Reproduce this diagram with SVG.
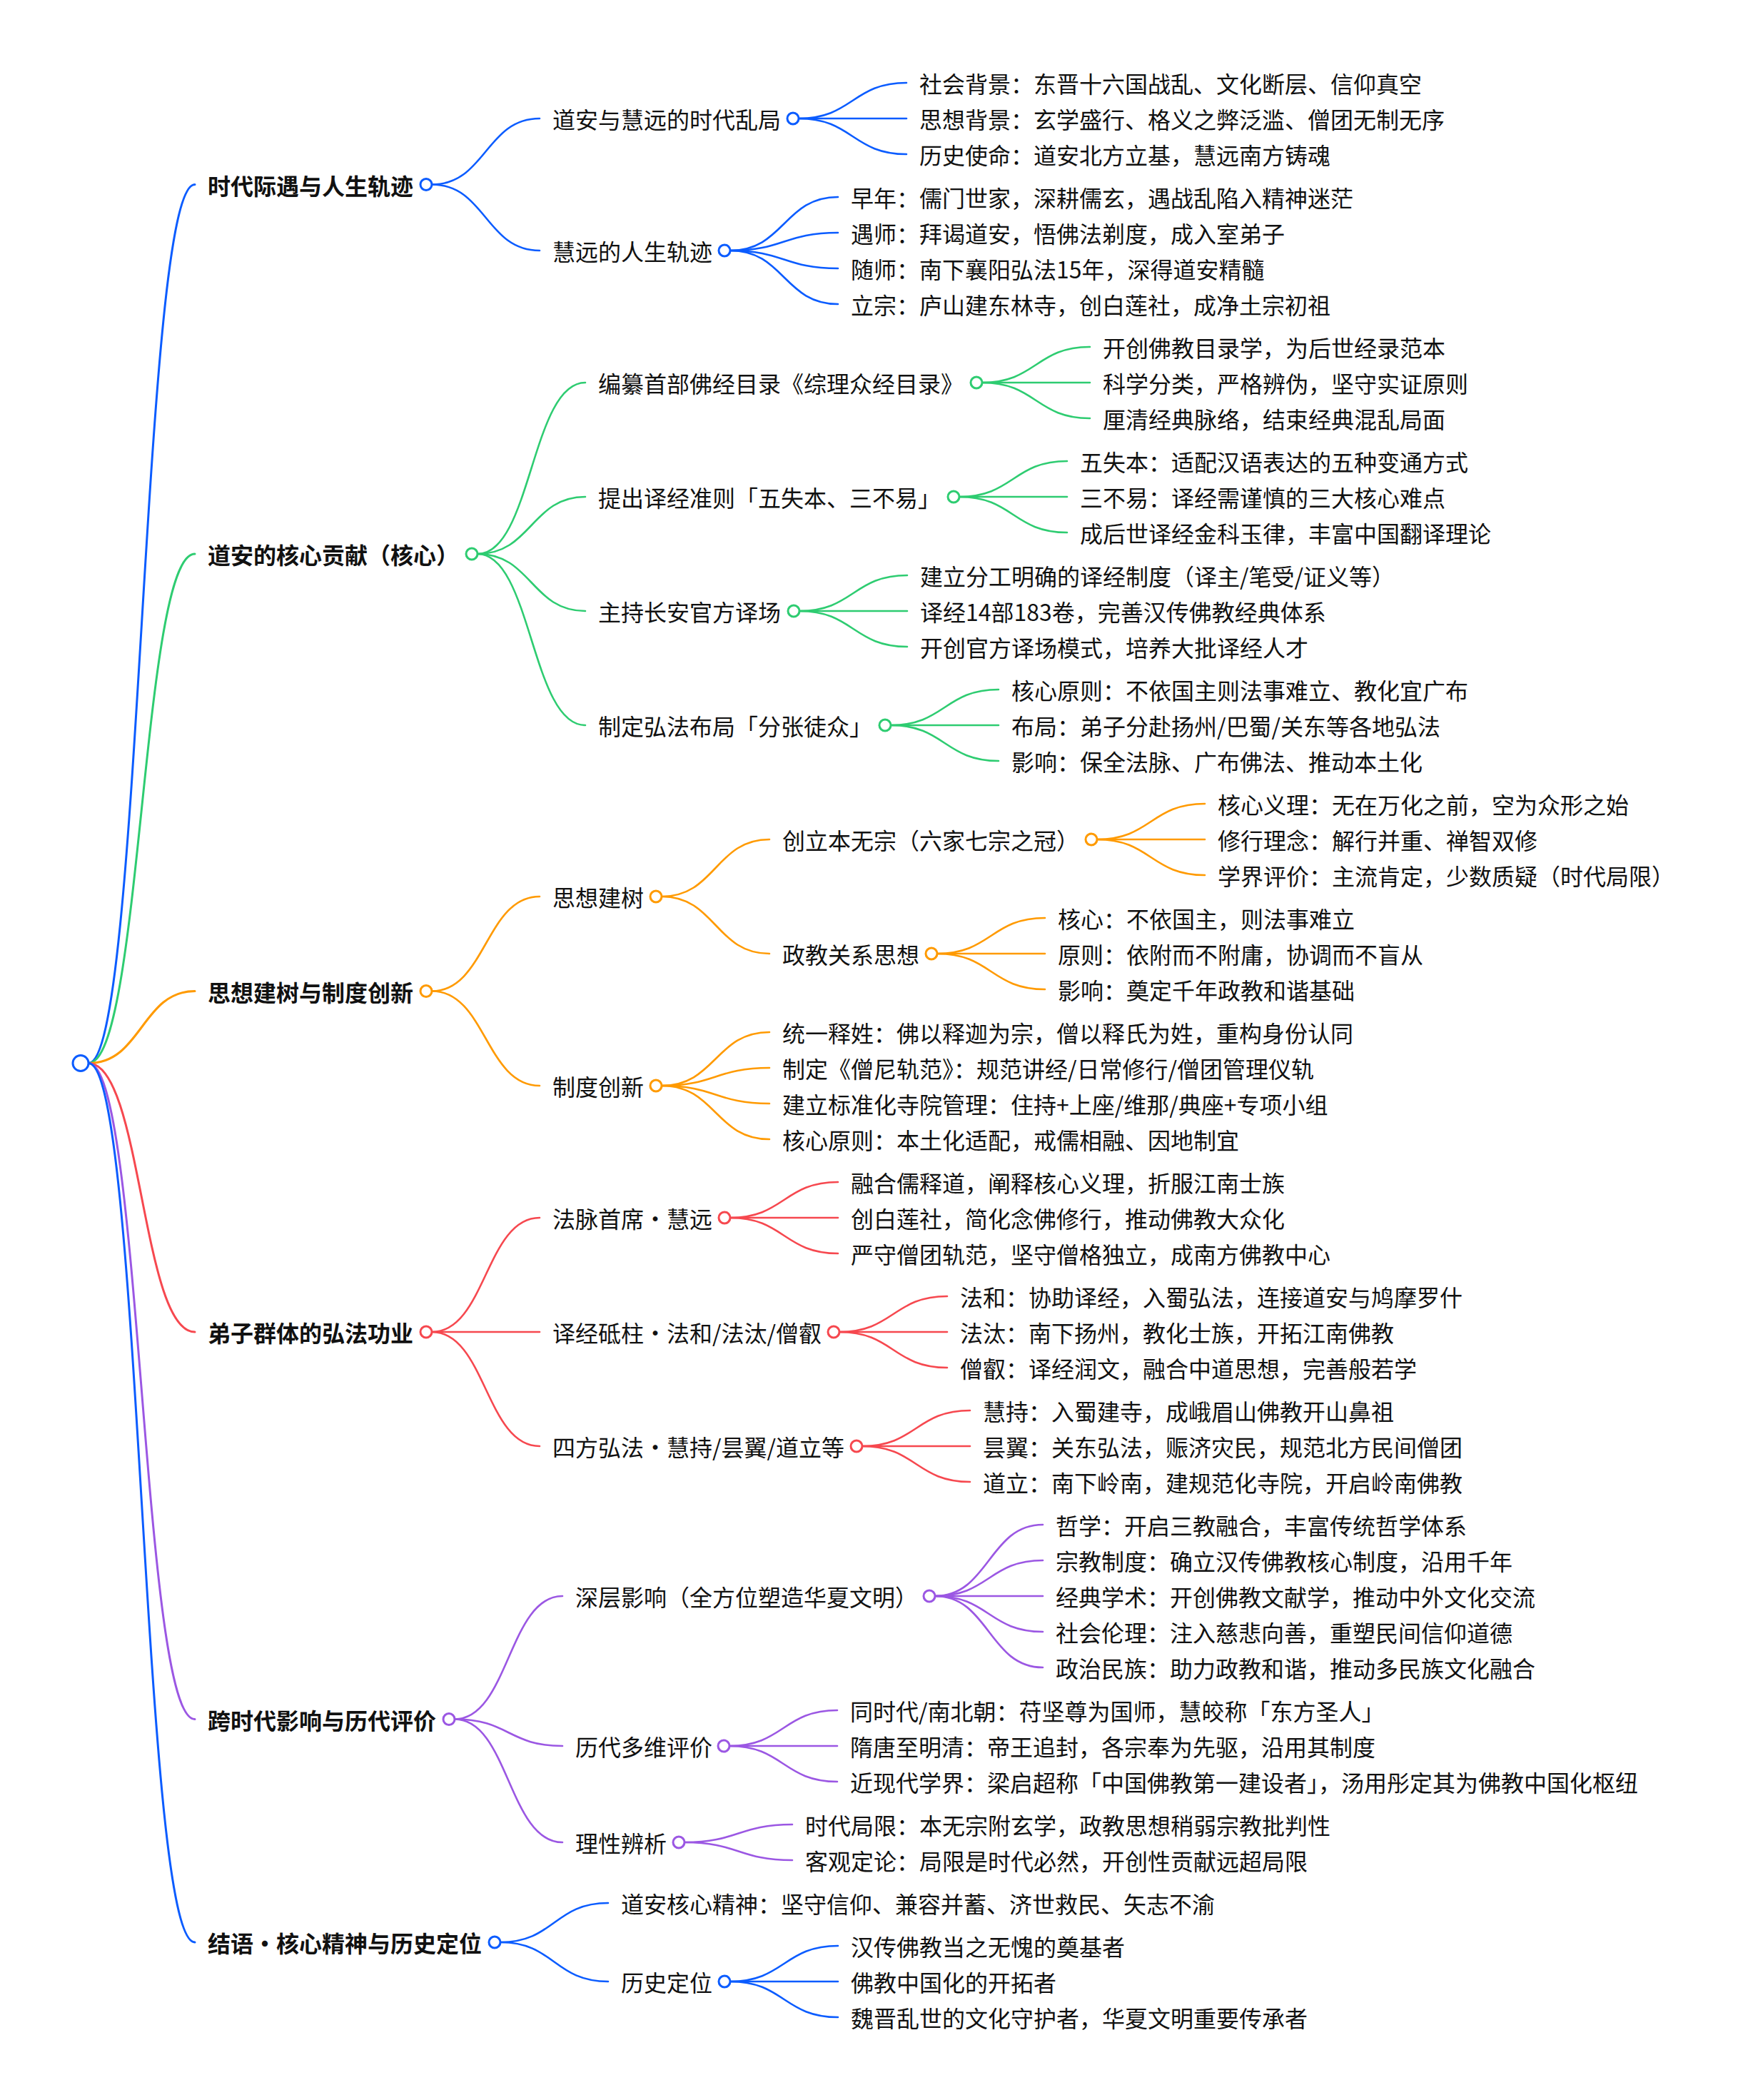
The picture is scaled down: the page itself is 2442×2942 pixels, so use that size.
<svg xmlns="http://www.w3.org/2000/svg" width="2442" height="2942" viewBox="0 0 2442 2942">
<style>
.t{font-family:"Noto Sans CJK SC","Noto Sans",sans-serif;font-size:32px;fill:#111}
.b{font-weight:700}
.l{fill:none;stroke-width:2.6;stroke-linecap:round}
.l1{stroke-width:3}
.c{fill:#fff;stroke-width:3}
.bl{stroke:#0b5cff}.gr{stroke:#2ecc71}.or{stroke:#ff9a00}.rd{stroke:#f6484f}.pu{stroke:#9b57e3}
</style>
<rect width="2442" height="2942" fill="#fff"/>
<g id="connectors">
<!-- root to L1 -->
<path class="l l1 bl" d="M124 1489.5C198.5 1489.5 198.5 258.5 273 258.5"/>
<path class="l l1 gr" d="M124 1489.5C198.5 1489.5 198.5 776 273 776"/>
<path class="l l1 or" d="M124 1489.5C198.5 1489.5 198.5 1388.5 273 1388.5"/>
<path class="l l1 rd" d="M124 1489.5C198.5 1489.5 198.5 1866 273 1866"/>
<path class="l l1 pu" d="M124 1489.5C198.5 1489.5 198.5 2408.5 273 2408.5"/>
<path class="l l1 bl" d="M124 1489.5C198.5 1489.5 198.5 2721 273 2721"/>
<!-- G1 -->
<path class="l bl" d="M605 258.5C680.5 258.5 680.5 166 756 166"/>
<path class="l bl" d="M605 258.5C680.5 258.5 680.5 351 756 351"/>
<path class="l bl" d="M1119 166C1194.5 166 1194.5 116 1270 116"/>
<path class="l bl" d="M1119 166C1194.5 166 1194.5 166 1270 166"/>
<path class="l bl" d="M1119 166C1194.5 166 1194.5 216 1270 216"/>
<path class="l bl" d="M1023 351C1098.5 351 1098.5 276 1174 276"/>
<path class="l bl" d="M1023 351C1098.5 351 1098.5 326 1174 326"/>
<path class="l bl" d="M1023 351C1098.5 351 1098.5 376 1174 376"/>
<path class="l bl" d="M1023 351C1098.5 351 1098.5 426 1174 426"/>
<!-- G2 -->
<path class="l gr" d="M669 776C744.5 776 744.5 536 820 536"/>
<path class="l gr" d="M669 776C744.5 776 744.5 696 820 696"/>
<path class="l gr" d="M669 776C744.5 776 744.5 856 820 856"/>
<path class="l gr" d="M669 776C744.5 776 744.5 1016 820 1016"/>
<path class="l gr" d="M1376 536C1451.5 536 1451.5 486 1527 486"/>
<path class="l gr" d="M1376 536C1451.5 536 1451.5 536 1527 536"/>
<path class="l gr" d="M1376 536C1451.5 536 1451.5 586 1527 586"/>
<path class="l gr" d="M1344 696C1419.5 696 1419.5 646 1495 646"/>
<path class="l gr" d="M1344 696C1419.5 696 1419.5 696 1495 696"/>
<path class="l gr" d="M1344 696C1419.5 696 1419.5 746 1495 746"/>
<path class="l gr" d="M1120 856C1195.5 856 1195.5 806 1271 806"/>
<path class="l gr" d="M1120 856C1195.5 856 1195.5 856 1271 856"/>
<path class="l gr" d="M1120 856C1195.5 856 1195.5 906 1271 906"/>
<path class="l gr" d="M1248 1016C1323.5 1016 1323.5 966 1399 966"/>
<path class="l gr" d="M1248 1016C1323.5 1016 1323.5 1016 1399 1016"/>
<path class="l gr" d="M1248 1016C1323.5 1016 1323.5 1066 1399 1066"/>
<!-- G3 -->
<path class="l or" d="M605 1388.5C680.5 1388.5 680.5 1256 756 1256"/>
<path class="l or" d="M605 1388.5C680.5 1388.5 680.5 1521 756 1521"/>
<path class="l or" d="M927 1256C1002.5 1256 1002.5 1176 1078 1176"/>
<path class="l or" d="M927 1256C1002.5 1256 1002.5 1336 1078 1336"/>
<path class="l or" d="M1537 1176C1612.5 1176 1612.5 1126 1688 1126"/>
<path class="l or" d="M1537 1176C1612.5 1176 1612.5 1176 1688 1176"/>
<path class="l or" d="M1537 1176C1612.5 1176 1612.5 1226 1688 1226"/>
<path class="l or" d="M1313 1336C1388.5 1336 1388.5 1286 1464 1286"/>
<path class="l or" d="M1313 1336C1388.5 1336 1388.5 1336 1464 1336"/>
<path class="l or" d="M1313 1336C1388.5 1336 1388.5 1386 1464 1386"/>
<path class="l or" d="M927 1521C1002.5 1521 1002.5 1446 1078 1446"/>
<path class="l or" d="M927 1521C1002.5 1521 1002.5 1496 1078 1496"/>
<path class="l or" d="M927 1521C1002.5 1521 1002.5 1546 1078 1546"/>
<path class="l or" d="M927 1521C1002.5 1521 1002.5 1596 1078 1596"/>
<!-- G4 -->
<path class="l rd" d="M605 1866C680.5 1866 680.5 1706 756 1706"/>
<path class="l rd" d="M605 1866C680.5 1866 680.5 1866 756 1866"/>
<path class="l rd" d="M605 1866C680.5 1866 680.5 2026 756 2026"/>
<path class="l rd" d="M1023 1706C1098.5 1706 1098.5 1656 1174 1656"/>
<path class="l rd" d="M1023 1706C1098.5 1706 1098.5 1706 1174 1706"/>
<path class="l rd" d="M1023 1706C1098.5 1706 1098.5 1756 1174 1756"/>
<path class="l rd" d="M1176 1866C1251.5 1866 1251.5 1816 1327 1816"/>
<path class="l rd" d="M1176 1866C1251.5 1866 1251.5 1866 1327 1866"/>
<path class="l rd" d="M1176 1866C1251.5 1866 1251.5 1916 1327 1916"/>
<path class="l rd" d="M1208 2026C1283.5 2026 1283.5 1976 1359 1976"/>
<path class="l rd" d="M1208 2026C1283.5 2026 1283.5 2026 1359 2026"/>
<path class="l rd" d="M1208 2026C1283.5 2026 1283.5 2076 1359 2076"/>
<!-- G5 -->
<path class="l pu" d="M637 2408.5C712.5 2408.5 712.5 2236 788 2236"/>
<path class="l pu" d="M637 2408.5C712.5 2408.5 712.5 2446 788 2446"/>
<path class="l pu" d="M637 2408.5C712.5 2408.5 712.5 2581 788 2581"/>
<path class="l pu" d="M1310 2236C1385.5 2236 1385.5 2136 1461 2136"/>
<path class="l pu" d="M1310 2236C1385.5 2236 1385.5 2186 1461 2186"/>
<path class="l pu" d="M1310 2236C1385.5 2236 1385.5 2236 1461 2236"/>
<path class="l pu" d="M1310 2236C1385.5 2236 1385.5 2286 1461 2286"/>
<path class="l pu" d="M1310 2236C1385.5 2236 1385.5 2336 1461 2336"/>
<path class="l pu" d="M1022 2446C1097.5 2446 1097.5 2396 1173 2396"/>
<path class="l pu" d="M1022 2446C1097.5 2446 1097.5 2446 1173 2446"/>
<path class="l pu" d="M1022 2446C1097.5 2446 1097.5 2496 1173 2496"/>
<path class="l pu" d="M959 2581C1034.5 2581 1034.5 2556 1110 2556"/>
<path class="l pu" d="M959 2581C1034.5 2581 1034.5 2606 1110 2606"/>
<!-- G6 -->
<path class="l bl" d="M701 2721C776.5 2721 776.5 2666 852 2666"/>
<path class="l bl" d="M701 2721C776.5 2721 776.5 2776 852 2776"/>
<path class="l bl" d="M1023 2776C1098.5 2776 1098.5 2726 1174 2726"/>
<path class="l bl" d="M1023 2776C1098.5 2776 1098.5 2776 1174 2776"/>
<path class="l bl" d="M1023 2776C1098.5 2776 1098.5 2826 1174 2826"/>
</g>
<g id="root"><circle class="c bl" cx="113" cy="1489.5" r="11"/></g>
<!-- Level 1 -->
<g id="n1"><text class="t b" x="291" y="272.5">时代际遇与人生轨迹</text><circle class="c bl" cx="597" cy="258.5" r="8"/></g>
<g id="n2"><text class="t b" x="291" y="790">道安的核心贡献（核心）</text><circle class="c gr" cx="661" cy="776" r="8"/></g>
<g id="n3"><text class="t b" x="291" y="1402.5">思想建树与制度创新</text><circle class="c or" cx="597" cy="1388.5" r="8"/></g>
<g id="n4"><text class="t b" x="291" y="1880">弟子群体的弘法功业</text><circle class="c rd" cx="597" cy="1866" r="8"/></g>
<g id="n5"><text class="t b" x="291" y="2422.5">跨时代影响与历代评价</text><circle class="c pu" cx="629" cy="2408.5" r="8"/></g>
<g id="n6"><text class="t b" x="291" y="2735">结语・核心精神与历史定位</text><circle class="c bl" cx="693" cy="2721" r="8"/></g>
<!-- G1 -->
<g id="n1a"><text class="t" x="774" y="180">道安与慧远的时代乱局</text><circle class="c bl" cx="1111" cy="166" r="8"/></g>
<g id="n1a1"><text class="t" x="1288" y="130">社会背景：东晋十六国战乱、文化断层、信仰真空</text></g>
<g id="n1a2"><text class="t" x="1288" y="180">思想背景：玄学盛行、格义之弊泛滥、僧团无制无序</text></g>
<g id="n1a3"><text class="t" x="1288" y="230">历史使命：道安北方立基，慧远南方铸魂</text></g>
<g id="n1b"><text class="t" x="774" y="365">慧远的人生轨迹</text><circle class="c bl" cx="1015" cy="351" r="8"/></g>
<g id="n1b1"><text class="t" x="1192" y="290">早年：儒门世家，深耕儒玄，遇战乱陷入精神迷茫</text></g>
<g id="n1b2"><text class="t" x="1192" y="340">遇师：拜谒道安，悟佛法剃度，成入室弟子</text></g>
<g id="n1b3"><text class="t" x="1192" y="390">随师：南下襄阳弘法15年，深得道安精髓</text></g>
<g id="n1b4"><text class="t" x="1192" y="440">立宗：庐山建东林寺，创白莲社，成净土宗初祖</text></g>
<!-- G2 -->
<g id="n2a"><text class="t" x="838" y="550">编纂首部佛经目录《综理众经目录》</text><circle class="c gr" cx="1368" cy="536" r="8"/></g>
<g id="n2a1"><text class="t" x="1545" y="500">开创佛教目录学，为后世经录范本</text></g>
<g id="n2a2"><text class="t" x="1545" y="550">科学分类，严格辨伪，坚守实证原则</text></g>
<g id="n2a3"><text class="t" x="1545" y="600">厘清经典脉络，结束经典混乱局面</text></g>
<g id="n2b"><text class="t" x="838" y="710">提出译经准则「五失本、三不易」</text><circle class="c gr" cx="1336" cy="696" r="8"/></g>
<g id="n2b1"><text class="t" x="1513" y="660">五失本：适配汉语表达的五种变通方式</text></g>
<g id="n2b2"><text class="t" x="1513" y="710">三不易：译经需谨慎的三大核心难点</text></g>
<g id="n2b3"><text class="t" x="1513" y="760">成后世译经金科玉律，丰富中国翻译理论</text></g>
<g id="n2c"><text class="t" x="838" y="870">主持长安官方译场</text><circle class="c gr" cx="1112" cy="856" r="8"/></g>
<g id="n2c1"><text class="t" x="1289" y="820">建立分工明确的译经制度（译主/笔受/证义等）</text></g>
<g id="n2c2"><text class="t" x="1289" y="870">译经14部183卷，完善汉传佛教经典体系</text></g>
<g id="n2c3"><text class="t" x="1289" y="920">开创官方译场模式，培养大批译经人才</text></g>
<g id="n2d"><text class="t" x="838" y="1030">制定弘法布局「分张徒众」</text><circle class="c gr" cx="1240" cy="1016" r="8"/></g>
<g id="n2d1"><text class="t" x="1417" y="980">核心原则：不依国主则法事难立、教化宜广布</text></g>
<g id="n2d2"><text class="t" x="1417" y="1030">布局：弟子分赴扬州/巴蜀/关东等各地弘法</text></g>
<g id="n2d3"><text class="t" x="1417" y="1080">影响：保全法脉、广布佛法、推动本土化</text></g>
<!-- G3 -->
<g id="n3a"><text class="t" x="774" y="1270">思想建树</text><circle class="c or" cx="919" cy="1256" r="8"/></g>
<g id="n3a1"><text class="t" x="1096" y="1190">创立本无宗（六家七宗之冠）</text><circle class="c or" cx="1529" cy="1176" r="8"/></g>
<g id="n3a1a"><text class="t" x="1706" y="1140">核心义理：无在万化之前，空为众形之始</text></g>
<g id="n3a1b"><text class="t" x="1706" y="1190">修行理念：解行并重、禅智双修</text></g>
<g id="n3a1c"><text class="t" x="1706" y="1240">学界评价：主流肯定，少数质疑（时代局限）</text></g>
<g id="n3a2"><text class="t" x="1096" y="1350">政教关系思想</text><circle class="c or" cx="1305" cy="1336" r="8"/></g>
<g id="n3a2a"><text class="t" x="1482" y="1300">核心：不依国主，则法事难立</text></g>
<g id="n3a2b"><text class="t" x="1482" y="1350">原则：依附而不附庸，协调而不盲从</text></g>
<g id="n3a2c"><text class="t" x="1482" y="1400">影响：奠定千年政教和谐基础</text></g>
<g id="n3b"><text class="t" x="774" y="1535">制度创新</text><circle class="c or" cx="919" cy="1521" r="8"/></g>
<g id="n3b1"><text class="t" x="1096" y="1460">统一释姓：佛以释迦为宗，僧以释氏为姓，重构身份认同</text></g>
<g id="n3b2"><text class="t" x="1096" y="1510">制定《僧尼轨范》：规范讲经/日常修行/僧团管理仪轨</text></g>
<g id="n3b3"><text class="t" x="1096" y="1560">建立标准化寺院管理：住持+上座/维那/典座+专项小组</text></g>
<g id="n3b4"><text class="t" x="1096" y="1610">核心原则：本土化适配，戒儒相融、因地制宜</text></g>
<!-- G4 -->
<g id="n4a"><text class="t" x="774" y="1720">法脉首席・慧远</text><circle class="c rd" cx="1015" cy="1706" r="8"/></g>
<g id="n4a1"><text class="t" x="1192" y="1670">融合儒释道，阐释核心义理，折服江南士族</text></g>
<g id="n4a2"><text class="t" x="1192" y="1720">创白莲社，简化念佛修行，推动佛教大众化</text></g>
<g id="n4a3"><text class="t" x="1192" y="1770">严守僧团轨范，坚守僧格独立，成南方佛教中心</text></g>
<g id="n4b"><text class="t" x="774" y="1880">译经砥柱・法和/法汰/僧叡</text><circle class="c rd" cx="1168" cy="1866" r="8"/></g>
<g id="n4b1"><text class="t" x="1345" y="1830">法和：协助译经，入蜀弘法，连接道安与鸠摩罗什</text></g>
<g id="n4b2"><text class="t" x="1345" y="1880">法汰：南下扬州，教化士族，开拓江南佛教</text></g>
<g id="n4b3"><text class="t" x="1345" y="1930">僧叡：译经润文，融合中道思想，完善般若学</text></g>
<g id="n4c"><text class="t" x="774" y="2040">四方弘法・慧持/昙翼/道立等</text><circle class="c rd" cx="1200" cy="2026" r="8"/></g>
<g id="n4c1"><text class="t" x="1377" y="1990">慧持：入蜀建寺，成峨眉山佛教开山鼻祖</text></g>
<g id="n4c2"><text class="t" x="1377" y="2040">昙翼：关东弘法，赈济灾民，规范北方民间僧团</text></g>
<g id="n4c3"><text class="t" x="1377" y="2090">道立：南下岭南，建规范化寺院，开启岭南佛教</text></g>
<!-- G5 -->
<g id="n5a"><text class="t" x="806" y="2250">深层影响（全方位塑造华夏文明）</text><circle class="c pu" cx="1302" cy="2236" r="8"/></g>
<g id="n5a1"><text class="t" x="1479" y="2150">哲学：开启三教融合，丰富传统哲学体系</text></g>
<g id="n5a2"><text class="t" x="1479" y="2200">宗教制度：确立汉传佛教核心制度，沿用千年</text></g>
<g id="n5a3"><text class="t" x="1479" y="2250">经典学术：开创佛教文献学，推动中外文化交流</text></g>
<g id="n5a4"><text class="t" x="1479" y="2300">社会伦理：注入慈悲向善，重塑民间信仰道德</text></g>
<g id="n5a5"><text class="t" x="1479" y="2350">政治民族：助力政教和谐，推动多民族文化融合</text></g>
<g id="n5b"><text class="t" x="806" y="2460">历代多维评价</text><circle class="c pu" cx="1014" cy="2446" r="8"/></g>
<g id="n5b1"><text class="t" x="1191" y="2410">同时代/南北朝：苻坚尊为国师，慧皎称「东方圣人」</text></g>
<g id="n5b2"><text class="t" x="1191" y="2460">隋唐至明清：帝王追封，各宗奉为先驱，沿用其制度</text></g>
<g id="n5b3"><text class="t" x="1191" y="2510">近现代学界：梁启超称「中国佛教第一建设者」，汤用彤定其为佛教中国化枢纽</text></g>
<g id="n5c"><text class="t" x="806" y="2595">理性辨析</text><circle class="c pu" cx="951" cy="2581" r="8"/></g>
<g id="n5c1"><text class="t" x="1128" y="2570">时代局限：本无宗附玄学，政教思想稍弱宗教批判性</text></g>
<g id="n5c2"><text class="t" x="1128" y="2620">客观定论：局限是时代必然，开创性贡献远超局限</text></g>
<!-- G6 -->
<g id="n6a"><text class="t" x="870" y="2680">道安核心精神：坚守信仰、兼容并蓄、济世救民、矢志不渝</text></g>
<g id="n6b"><text class="t" x="870" y="2790">历史定位</text><circle class="c bl" cx="1015" cy="2776" r="8"/></g>
<g id="n6b1"><text class="t" x="1192" y="2740">汉传佛教当之无愧的奠基者</text></g>
<g id="n6b2"><text class="t" x="1192" y="2790">佛教中国化的开拓者</text></g>
<g id="n6b3"><text class="t" x="1192" y="2840">魏晋乱世的文化守护者，华夏文明重要传承者</text></g>
</svg>
